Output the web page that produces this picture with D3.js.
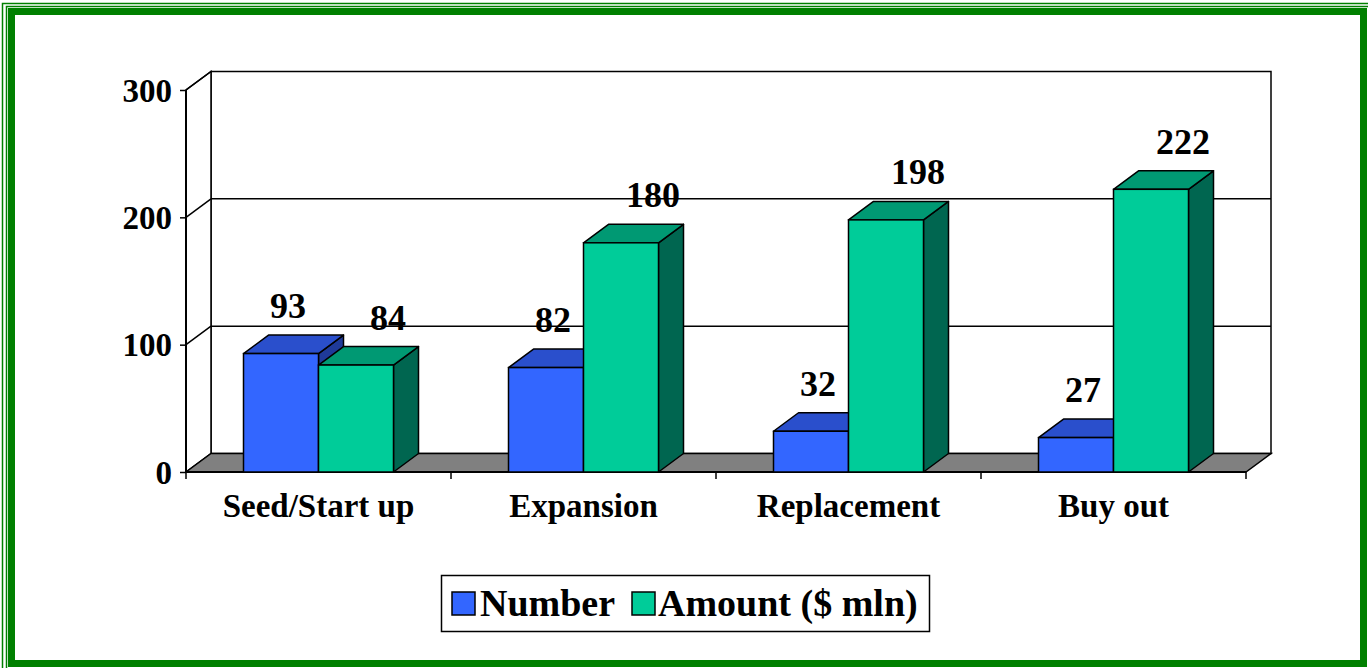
<!DOCTYPE html>
<html>
<head>
<meta charset="utf-8">
<script src="https://cdn.jsdelivr.net/npm/d3@7"></script>
<style>
  html, body { margin: 0; padding: 0; background: #fff; }
  svg { display: block; }
  text { font-family: "Liberation Serif", "Times New Roman", serif; font-weight: bold; fill: #000; }
</style>
</head>
<body>
<svg id="chart" width="1368" height="668"></svg>
<script>
// ---- data ----
const categories = ["Seed/Start up", "Expansion", "Replacement", "Buy out"];
const seriesNames = ["Number", "Amount ($ mln)"];
const numberValues = [93, 82, 32, 27];
const amountValues = [84, 180, 198, 222];
const yTicks = [0, 100, 200, 300];

// ---- styles ----
const faceColors = [
  { front: "#3366FF", top: "#2A4FCC", side: "#1F3A99" },
  { front: "#00CC99", top: "#009973", side: "#006650" }
];

const svg = d3.select("#chart");
const W = 1368, H = 668;

// frame
svg.append("rect").attr("width", W).attr("height", H).attr("fill", "#fff");
const green = "#008000";
svg.append("path").attr("d", "M2.5,668 V3.5 H1368").attr("fill", "none").attr("stroke", green).attr("stroke-width", 1.5);
svg.append("path").attr("d", "M6.5,668 V6.5 H1368").attr("fill", "none").attr("stroke", green).attr("stroke-width", 1.5);
svg.append("rect").attr("x", 11.5).attr("y", 11.5).attr("width", 1352).attr("height", 652)
  .attr("fill", "none").attr("stroke", green).attr("stroke-width", 7);

// geometry
const x0Left = 186, x0Right = 1246;
const DX = 25, DY = -18.5;
const y = d3.scaleLinear().domain([0, 300]).range([472, 90]);
const x0 = d3.scaleBand().domain(categories).range([x0Left, x0Right]).padding(0);
const bw = x0.bandwidth();
const groupW = 150;
const x1 = d3.scaleBand().domain(seriesNames)
  .range([(bw - groupW) / 2, (bw + groupW) / 2]).padding(0);

const g = svg.append("g");
const line = "#000";

// back wall
g.append("rect").attr("x", x0Left + DX).attr("y", y(300) + DY)
  .attr("width", x0Right - x0Left).attr("height", y(0) - y(300))
  .attr("fill", "#fff").attr("stroke", line).attr("stroke-width", 1.5);
// left wall
g.append("path")
  .attr("d", `M${x0Left},${y(0)} L${x0Left},${y(300)} L${x0Left + DX},${y(300) + DY} L${x0Left + DX},${y(0) + DY} Z`)
  .attr("fill", "#fff").attr("stroke", line).attr("stroke-width", 1.5);
// gridlines (back wall + left wall diagonals)
yTicks.forEach(t => {
  if (t > 0 && t < 300) {
    g.append("line").attr("x1", x0Left + DX).attr("x2", x0Right + DX)
      .attr("y1", y(t) + DY).attr("y2", y(t) + DY).attr("stroke", line).attr("stroke-width", 1.5);
  }
  if (t > 0) {
    g.append("line").attr("x1", x0Left).attr("x2", x0Left + DX)
      .attr("y1", y(t)).attr("y2", y(t) + DY).attr("stroke", line).attr("stroke-width", 1.5);
  }
});
// floor
g.append("path")
  .attr("d", `M${x0Left},${y(0)} L${x0Right},${y(0)} L${x0Right + DX},${y(0) + DY} L${x0Left + DX},${y(0) + DY} Z`)
  .attr("fill", "#808080").attr("stroke", line).attr("stroke-width", 1.5);

// y axis
const yAxis = d3.axisLeft(y).tickValues(yTicks).tickSize(6).tickPadding(8).tickFormat(d3.format("d"));
const ya = g.append("g").attr("transform", `translate(${x0Left},0)`).call(yAxis);
ya.select(".domain").attr("stroke", line).attr("stroke-width", 2).attr("d", `M0,${y(300)}V${y(0)}`);
ya.selectAll(".tick line").attr("stroke", line).attr("stroke-width", 1.5);
ya.selectAll(".tick text").style("font-size", "33px").attr("dy", "0.34em")
  .style("font-family", '"Liberation Serif", "Times New Roman", serif').style("font-weight", "bold").attr("fill", "#000");

// x axis
const xAxis = d3.axisBottom(x0).tickSize(0).tickPadding(22);
const xa = g.append("g").attr("transform", `translate(0,${y(0)})`).call(xAxis);
xa.select(".domain").attr("stroke", line).attr("stroke-width", 2).attr("d", `M${x0Left},0H${x0Right}`);
xa.selectAll(".tick text").style("font-size", "33px")
  .style("font-family", '"Liberation Serif", "Times New Roman", serif').style("font-weight", "bold").attr("fill", "#000")
  .attr("dy", "0.71em");
// category separator ticks
const sepTicks = categories.map(c => x0(c)).concat([x0Right]);
g.selectAll("line.sep").data(sepTicks).enter().append("line")
  .attr("x1", d => d).attr("x2", d => d).attr("y1", y(0)).attr("y2", y(0) + 7)
  .attr("stroke", line).attr("stroke-width", 1.5);

// bars
const seriesValues = [numberValues, amountValues];
const bars = [];
categories.forEach((c, i) => {
  seriesNames.forEach((s, j) => {
    bars.push({ cat: c, ser: s, j: j, v: seriesValues[j][i] });
  });
});
const barG = g.append("g");
bars.forEach(b => {
  const xl = x0(b.cat) + x1(b.ser), xr = xl + x1.bandwidth();
  const yt = y(b.v), yb = y(0);
  const col = faceColors[b.j];
  const bg = barG.append("g");
  bg.append("path")
    .attr("d", `M${xr},${yb} L${xr + DX},${yb + DY} L${xr + DX},${yt + DY} L${xr},${yt} Z`)
    .attr("fill", col.side).attr("stroke", line).attr("stroke-width", 1.5).attr("stroke-linejoin", "round");
  bg.append("path")
    .attr("d", `M${xl},${yt} L${xl + DX},${yt + DY} L${xr + DX},${yt + DY} L${xr},${yt} Z`)
    .attr("fill", col.top).attr("stroke", line).attr("stroke-width", 1.5).attr("stroke-linejoin", "round");
  bg.append("rect").attr("x", xl).attr("y", yt).attr("width", xr - xl).attr("height", yb - yt)
    .attr("fill", col.front).attr("stroke", line).attr("stroke-width", 1.5);
});

// value labels
const labelShift = [7, 32];
bars.forEach(b => {
  const xc = x0(b.cat) + x1(b.ser) + x1.bandwidth() / 2;
  g.append("text")
    .attr("x", xc + labelShift[b.j]).attr("y", y(b.v) + DY - 17)
    .attr("text-anchor", "middle").style("font-size", "36px").text(b.v);
});

// legend
const lg = svg.append("g");
lg.append("rect").attr("x", 441.5).attr("y", 575.5).attr("width", 488).attr("height", 56)
  .attr("fill", "#fff").attr("stroke", line).attr("stroke-width", 1.5);
const legendItems = [
  { name: seriesNames[0], sx: 452, tx: 480 },
  { name: seriesNames[1], sx: 632, tx: 658 }
];
legendItems.forEach((it, j) => {
  lg.append("rect").attr("x", it.sx).attr("y", 592).attr("width", 23).attr("height", 23)
    .attr("fill", faceColors[j].front).attr("stroke", line).attr("stroke-width", 1.5);
  lg.append("text").attr("x", it.tx).attr("y", 616).style("font-size", "38px").text(it.name);
});
</script>
</body>
</html>
